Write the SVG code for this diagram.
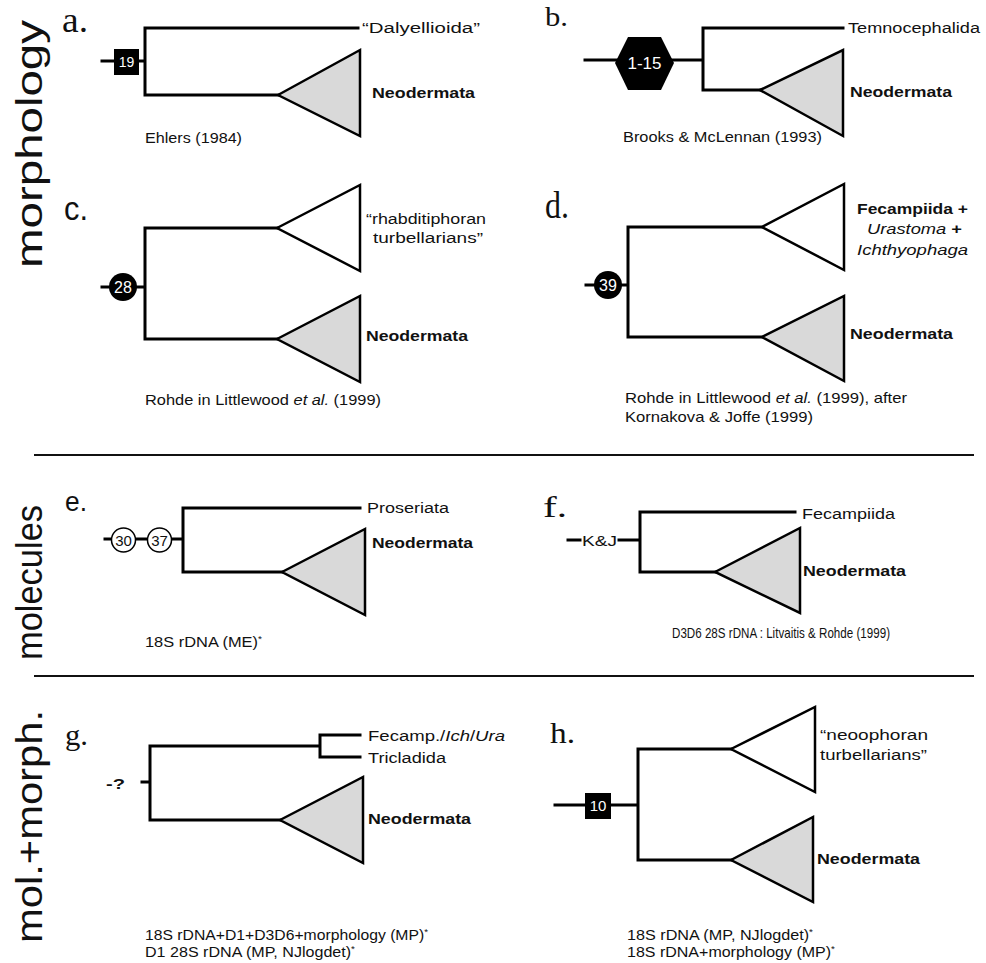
<svg xmlns="http://www.w3.org/2000/svg" width="986" height="963" viewBox="0 0 986 963">
<style>
.br{stroke:#000;stroke-width:3;fill:none;stroke-linecap:square;stroke-linejoin:miter}
.sep{stroke:#111;stroke-width:2;fill:none}
.tg{fill:#d9d9d9;stroke:#000;stroke-width:2.5;stroke-linejoin:miter}
.tw{fill:#fff;stroke:#000;stroke-width:2.5;stroke-linejoin:miter}
.t{font-family:"Liberation Sans",Arial,Helvetica,sans-serif;font-size:15.5px;fill:#111}
.b{font-weight:bold}
.i{font-style:italic}
.cap{font-family:"Liberation Sans",Arial,Helvetica,sans-serif;font-size:14.5px;fill:#111}
.pl{font-family:"Liberation Serif","Times New Roman",serif;fill:#111}
.pls{font-family:"Liberation Sans",Arial,sans-serif;fill:#111}
.side{font-family:"Liberation Sans",Arial,sans-serif;font-size:36px;fill:#111}
.wn{font-family:"Liberation Sans",Arial,sans-serif;fill:#fff;text-anchor:middle}
.kn{font-family:"Liberation Sans",Arial,sans-serif;fill:#111;text-anchor:middle}
</style>
<rect width="986" height="963" fill="#fff"/>

<g id="side-labels">
<text class="side" transform="translate(42,268) rotate(-90)" textLength="248" lengthAdjust="spacingAndGlyphs">morphology</text>
<text class="side" transform="translate(42,660) rotate(-90)" textLength="155" lengthAdjust="spacingAndGlyphs">molecules</text>
<text class="side" transform="translate(42,943) rotate(-90)" textLength="233" lengthAdjust="spacingAndGlyphs">mol.+morph.</text>
</g>

<g id="separators">
<line class="sep" x1="34" y1="455" x2="974" y2="455"/>
<line class="sep" x1="34" y1="676" x2="974" y2="676"/>
</g>

<!-- Panel a -->
<g id="panel-a">
<text class="pl" x="62" y="32" font-size="36" textLength="26" lengthAdjust="spacingAndGlyphs">a.</text>
<g id="a-connectors">
<path class="br" d="M102,61 H145 M358,28 H145 V95 H278"/>
</g>
<g id="a-root"><rect x="114" y="49" width="25" height="26" fill="#000"/><text class="wn" x="126.5" y="67" font-size="14">19</text></g>
<g id="a-dalyellioida"><text class="t" x="362" y="33" textLength="118" lengthAdjust="spacingAndGlyphs">“Dalyellioida”</text></g>
<g id="a-neodermata"><polygon class="tg" points="278,95 360,50 360,136"/><text class="t b" x="372" y="98" textLength="103" lengthAdjust="spacingAndGlyphs">Neodermata</text></g>
<text class="cap" x="145" y="143" textLength="97" lengthAdjust="spacingAndGlyphs">Ehlers (1984)</text>
</g>

<!-- Panel b -->
<g id="panel-b">
<text class="pl" x="545" y="26" font-size="27" textLength="23" lengthAdjust="spacingAndGlyphs">b.</text>
<g id="b-connectors">
<path class="br" d="M585,60 H703 M843,28 H703 V90 H760"/>
</g>
<g id="b-root"><polygon points="615,63 628,37 661,37 674,63 661,90 628,90" fill="#000"/><text class="wn" x="644.5" y="69" font-size="17">1-15</text></g>
<g id="b-temnocephalida"><text class="t" x="848" y="33" textLength="132" lengthAdjust="spacingAndGlyphs">Temnocephalida</text></g>
<g id="b-neodermata"><polygon class="tg" points="760,90 843,50 843,136"/><text class="t b" x="850" y="97" textLength="102" lengthAdjust="spacingAndGlyphs">Neodermata</text></g>
<text class="cap" x="623" y="142" textLength="199" lengthAdjust="spacingAndGlyphs">Brooks &amp; McLennan (1993)</text>
</g>

<!-- Panel c -->
<g id="panel-c">
<text class="pls" x="64" y="220" font-size="34" textLength="24" lengthAdjust="spacingAndGlyphs">c.</text>
<g id="c-connectors">
<path class="br" d="M102,287 H145 M277,228 H145 V339 H277"/>
</g>
<g id="c-root"><circle cx="123" cy="287" r="14" fill="#000"/><text class="wn" x="123" y="293" font-size="16">28</text></g>
<g id="c-rhabditiphora"><polygon class="tw" points="277,228 360,185 360,271"/>
<text class="t" x="366" y="224" textLength="120" lengthAdjust="spacingAndGlyphs">“rhabditiphoran</text>
<text class="t" x="373" y="243" textLength="110" lengthAdjust="spacingAndGlyphs">turbellarians”</text></g>
<g id="c-neodermata"><polygon class="tg" points="277,339 360,296 360,382"/><text class="t b" x="366" y="341" textLength="102" lengthAdjust="spacingAndGlyphs">Neodermata</text></g>
<text class="cap" x="145" y="405" textLength="236" lengthAdjust="spacingAndGlyphs">Rohde in Littlewood <tspan class="i">et al.</tspan> (1999)</text>
</g>

<!-- Panel d -->
<g id="panel-d">
<text class="pl" x="545" y="218" font-size="37" textLength="24" lengthAdjust="spacingAndGlyphs">d.</text>
<g id="d-connectors">
<path class="br" d="M586,285 H628 M762,227 H628 V337 H762"/>
</g>
<g id="d-root"><circle cx="608" cy="285" r="14" fill="#000"/><text class="wn" x="608" y="291" font-size="16">39</text></g>
<g id="d-fecampiida"><polygon class="tw" points="762,227 844,184 844,270"/>
<text class="t b" x="857" y="214" textLength="111" lengthAdjust="spacingAndGlyphs">Fecampiida +</text>
<text class="t" x="867" y="234" textLength="95" lengthAdjust="spacingAndGlyphs"><tspan class="i">Urastoma</tspan> <tspan class="b">+</tspan></text>
<text class="t i" x="857" y="255" textLength="111" lengthAdjust="spacingAndGlyphs">Ichthyophaga</text></g>
<g id="d-neodermata"><polygon class="tg" points="762,337 844,296 844,381"/><text class="t b" x="850" y="339" textLength="103" lengthAdjust="spacingAndGlyphs">Neodermata</text></g>
<text class="cap" x="625" y="403" textLength="282" lengthAdjust="spacingAndGlyphs">Rohde in Littlewood <tspan class="i">et al.</tspan> (1999), after</text>
<text class="cap" x="625" y="422" textLength="188" lengthAdjust="spacingAndGlyphs">Kornakova &amp; Joffe (1999)</text>
</g>

<!-- Panel e -->
<g id="panel-e">
<text class="pls" x="65" y="511" font-size="27" textLength="22" lengthAdjust="spacingAndGlyphs">e.</text>
<g id="e-connectors">
<path class="br" d="M105,539 H183 M360,508 H183 V572 H282"/>
</g>
<g id="e-root">
<circle cx="123.5" cy="540" r="12" fill="#fff" stroke="#000" stroke-width="1.5"/><text class="kn" x="123.5" y="545.5" font-size="15">30</text>
<circle cx="159.5" cy="540" r="12" fill="#fff" stroke="#000" stroke-width="1.5"/><text class="kn" x="159.5" y="545.5" font-size="15">37</text>
</g>
<g id="e-proseriata"><text class="t" x="367" y="513" textLength="82" lengthAdjust="spacingAndGlyphs">Proseriata</text></g>
<g id="e-neodermata"><polygon class="tg" points="282,572 365,529 365,615"/><text class="t b" x="372" y="548" textLength="101" lengthAdjust="spacingAndGlyphs">Neodermata</text></g>
<text class="cap" x="145" y="647" textLength="117" lengthAdjust="spacingAndGlyphs">18S rDNA (ME)<tspan font-size="9" dy="-5">*</tspan></text>
</g>

<!-- Panel f -->
<g id="panel-f">
<text class="pl" x="543" y="517" font-size="29" textLength="24" lengthAdjust="spacingAndGlyphs">f.</text>
<g id="f-connectors">
<path class="br" d="M568,540 H580 M619,540 H640 M795,512 H640 V572 H715"/>
</g>
<g id="f-root"><text class="t" x="582" y="546" textLength="35" lengthAdjust="spacingAndGlyphs">K&amp;J</text></g>
<g id="f-fecampiida"><text class="t" x="802" y="519" textLength="93" lengthAdjust="spacingAndGlyphs">Fecampiida</text></g>
<g id="f-neodermata"><polygon class="tg" points="715,572 800,528 800,613"/><text class="t b" x="803" y="576" textLength="103" lengthAdjust="spacingAndGlyphs">Neodermata</text></g>
<text class="cap" x="672" y="638" textLength="218" lengthAdjust="spacingAndGlyphs">D3D6 28S rDNA : Litvaitis &amp; Rohde (1999)</text>
</g>

<!-- Panel g -->
<g id="panel-g">
<text class="pl" x="65" y="745" font-size="30" textLength="23" lengthAdjust="spacingAndGlyphs">g.</text>
<g id="g-connectors">
<path class="br" d="M142,782 H150 M320,746 H150 V820 H280 M360,735 H320 V757 H360"/>
</g>
<g id="g-root"><text class="t b" x="106" y="789" font-size="19" textLength="19" lengthAdjust="spacingAndGlyphs">-?</text></g>
<g id="g-fecamp"><text class="t" x="368" y="741" textLength="137" lengthAdjust="spacingAndGlyphs">Fecamp./<tspan class="i">Ich</tspan>/<tspan class="i">Ura</tspan></text></g>
<g id="g-tricladida"><text class="t" x="368" y="763" textLength="78" lengthAdjust="spacingAndGlyphs">Tricladida</text></g>
<g id="g-neodermata"><polygon class="tg" points="280,820 363,777 363,863"/><text class="t b" x="368" y="824" textLength="103" lengthAdjust="spacingAndGlyphs">Neodermata</text></g>
<text class="cap" x="145" y="940" textLength="283" lengthAdjust="spacingAndGlyphs">18S rDNA+D1+D3D6+morphology (MP)<tspan font-size="9" dy="-5">*</tspan></text>
<text class="cap" x="145" y="957" textLength="210" lengthAdjust="spacingAndGlyphs">D1 28S rDNA (MP, NJlogdet)<tspan font-size="9" dy="-5">*</tspan></text>
</g>

<!-- Panel h -->
<g id="panel-h">
<text class="pl" x="550" y="743" font-size="30" textLength="25" lengthAdjust="spacingAndGlyphs">h.</text>
<g id="h-connectors">
<path class="br" d="M555,805 H638 M731,749 H638 V860 H731"/>
</g>
<g id="h-root"><rect x="585" y="793" width="26" height="26" fill="#000"/><text class="wn" x="598" y="811" font-size="15">10</text></g>
<g id="h-neoophora"><polygon class="tw" points="731,749 815,707 815,792"/>
<text class="t" x="820" y="740" textLength="108" lengthAdjust="spacingAndGlyphs">“neoophoran</text>
<text class="t" x="820" y="760" textLength="107" lengthAdjust="spacingAndGlyphs">turbellarians”</text></g>
<g id="h-neodermata"><polygon class="tg" points="731,860 813,817 813,902"/><text class="t b" x="817" y="864" textLength="103" lengthAdjust="spacingAndGlyphs">Neodermata</text></g>
<text class="cap" x="627" y="940" textLength="186" lengthAdjust="spacingAndGlyphs">18S rDNA (MP, NJlogdet)<tspan font-size="9" dy="-5">*</tspan></text>
<text class="cap" x="627" y="957" textLength="208" lengthAdjust="spacingAndGlyphs">18S rDNA+morphology (MP)<tspan font-size="9" dy="-5">*</tspan></text>
</g>
</svg>
